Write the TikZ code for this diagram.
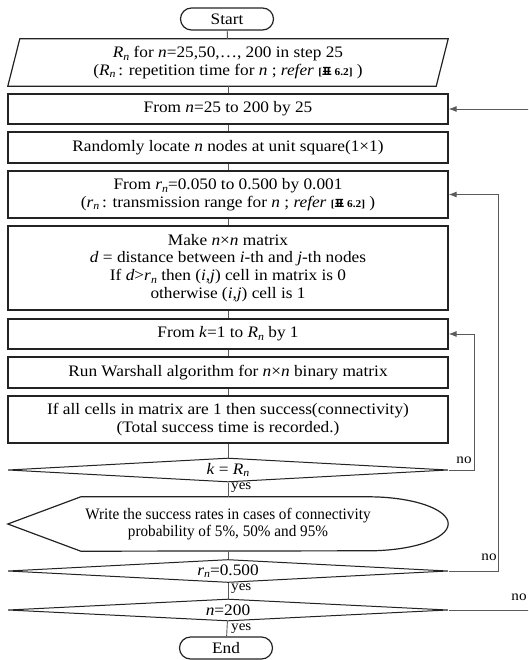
\documentclass[tikz,border=0pt]{standalone}
\usepackage{fontspec}
\setmainfont{Liberation Serif}[FakeStretch=1.08]
\newfontfamily\narrowserif{Liberation Serif}[FakeStretch=0.95]
\newfontfamily\cjk{Noto Sans CJK KR}
\usetikzlibrary{shapes.geometric,arrows.meta,calc}

\definecolor{linegray}{RGB}{90,90,90}
\definecolor{edgeblack}{RGB}{35,35,35}

\newcommand{\lowsub}[1]{\raisebox{-0.35ex}{\fontsize{11}{11}\selectfont\textit{#1}}}
\newcommand{\Rn}{\textit{R}\lowsub{n}}
\newcommand{\rn}{\textit{r}\lowsub{n}}
\newcommand{\tabref}{{\fontsize{10.5}{12}\selectfont\bfseries[{\cjk\bfseries 표} 6.2]}}

\begin{document}
\begin{tikzpicture}[
x=1pt, y=1pt,
every node/.style={
align=center,
inner sep=0pt,
font=\fontsize{16}{17.7}\selectfont
},
line/.style={draw=linegray, line width=0.9pt},
arrow/.style={line, -{Latex[length=8pt,width=6pt]}}
]

% =====================================================
% Styles
% =====================================================

\tikzstyle{terminal} =
[rectangle, rounded corners=11pt,
draw=edgeblack, line width=1.2pt,
minimum width=93, minimum height=22]

\tikzstyle{io} =
[rectangle,
minimum width=440, minimum height=47]

\tikzstyle{process} =
[rectangle,
draw=edgeblack, line width=1.2pt,
minimum width=440, minimum height=30]

\tikzstyle{decision} =
[diamond, aspect=18,
draw=edgeblack, line width=1pt,
minimum width=440, minimum height=24]

\tikzstyle{display} =
[rectangle,
minimum width=440, minimum height=54]

\tikzstyle{answer} =
[font=\fontsize{14}{14}\selectfont]

\useasboundingbox (0,0) rectangle (528,-660);
\clip (0,0) rectangle (528,-660);

% =====================================================
% Nodes
% =====================================================

\node (start) [terminal] at (227,-19)
{Start};

\node (input) [io] at (228,-62.5)
{\Rn{} for \textit{n}=25,50,\dots, 200 in step 25\\
(\Rn\,: repetition time for \textit{n} ; \textit{refer} \tabref\ )};

\node (loopn) [process] at (228,-109)
{From \textit{n}=25 to 200 by 25};

\node (place) [process, minimum height=31] at (228,-147.5)
{Randomly locate \textit{n} nodes at unit square(1×1)};

\node (loopr) [process, minimum height=47] at (228,-194.5)
{From \rn=0.050 to 0.500 by 0.001\\
(\rn\,: transmission range for \textit{n} ; \textit{refer} \tabref\ )};

\node (adjacency) [process, minimum height=84] at (228,-268)
{Make \textit{n}×\textit{n} matrix\\
\textit{d} = distance between \textit{i}-th and \textit{j}-th nodes\\
If \textit{d}>\rn{} then (\textit{i},\textit{j}) cell in matrix is 0\\
otherwise (\textit{i},\textit{j}) cell is 1};

\node (loopk) [process] at (228,-334)
{From \textit{k}=1 to \Rn{} by 1};

\node (warshall) [process, minimum height=31] at (228,-372.5)
{Run Warshall algorithm for \textit{n}×\textit{n} binary matrix};

\node (success) [process, minimum height=47] at (228,-419.5)
{If all cells in matrix are 1 then success(connectivity)\\
(Total success time is recorded.)};

\node (checkk) [decision] at (228,-470)
{\textit{k} = \Rn};

\node (write) [display, font=\narrowserif\fontsize{16}{17.7}\selectfont] at (228,-524)
{Write the success rates in cases of connectivity\\
probability of 5\%, 50\% and 95\%};

\node (checkr) [decision, minimum height=23] at (228,-571)
{\rn=0.500};

\node (checkn) [decision, minimum height=22] at (228,-610)
{\textit{n}=200};

\node (end) [terminal] at (226,-648)
{End};

% labels
\node (yesk) [answer, anchor=west] at (231,-488) {yes};
\node (yesr) [answer, anchor=west] at (231,-589) {yes};
\node (yesn) [answer, anchor=west] at (231,-629) {yes};
\node (nok) [answer] at (464,-460) {no};
\node (nor) [answer] at (489,-557) {no};
\node (non) [answer] at (519,-597) {no};

% input outline
\draw [edgeblack, line width=1.2pt]
(input.south west) -- ($(input.north west)+(12,0)$)
-- (input.north east) -- ($(input.south east)+(-12,0)$) -- cycle;

% display outline
\draw [edgeblack, line width=1.2pt]
(write.west) -- ($(write.north west)+(73,0)$)
-- ($(write.north east)+(-80,0)$)
arc[start angle=90, end angle=-90, x radius=80, y radius=27]
-- ($(write.south west)+(73,0)$) -- cycle;

% =====================================================
% Arrows
% =====================================================

\draw [line] (start) -- (input);

\draw [line] (input) -- (loopn);

\draw [line] (loopn) -- (place);

\draw [line] (place) -- (loopr);

\draw [line] (loopr) -- (adjacency);

\draw [line] (adjacency) -- (loopk);

\draw [line] (loopk) -- (warshall);

\draw [line] (warshall) -- (success);

\draw [line] (success) -- (checkk);

\draw [line] (checkk) -- (write.north);

\draw [line] (write.south) -- (checkr);

\draw [line] (checkr) -- (checkn);

\draw [line] (checkn) -- (end);

\draw [arrow] (checkk.east) -- ++(26,0) |- (loopk.east);

\draw [arrow] (checkr.east) -- ++(50,0) |- (loopr.east);

\draw [arrow] (checkn.east) -- ++(90,0) |- (loopn.east);

\end{tikzpicture}
\end{document}
